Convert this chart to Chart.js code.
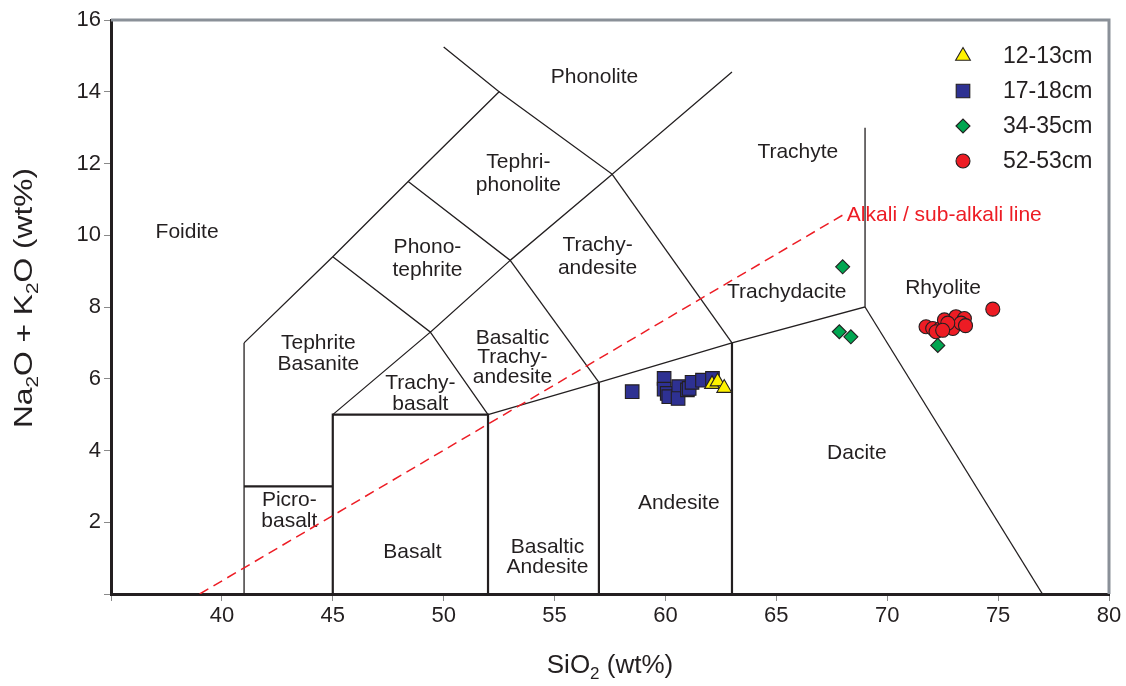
<!DOCTYPE html>
<html><head><meta charset="utf-8">
<script src="https://cdn.jsdelivr.net/npm/chart.js@4.4.1/dist/chart.umd.min.js"></script>
<style>html,body{margin:0;padding:0;background:#fff;}</style>
</head><body>
<canvas id="c" width="1126" height="686"></canvas>
<script>
// ---- data ----
const seriesNames = ['12-13cm', '17-18cm', '34-35cm', '52-53cm'];
const s1213 = [[62.1, 5.85], [62.35, 5.92], [62.65, 5.74]];
const s1718 = [[58.5, 5.64], [59.94, 6.01], [59.94, 5.71], [60.08, 5.59], [60.15, 5.5], [60.6, 5.78],
               [60.57, 5.45], [60.99, 5.69], [61.07, 5.73], [61.2, 5.9], [61.67, 5.96], [62.12, 6.01]];
const s3435 = [[67.99, 9.12], [67.84, 7.31], [68.36, 7.17], [72.28, 6.93]];
const s5253 = [[74.76, 7.94], [71.75, 7.45], [72.05, 7.40], [72.40, 7.40], [72.58, 7.64], [72.96, 7.40],
               [73.10, 7.73], [73.48, 7.68], [73.33, 7.55], [73.53, 7.48], [72.73, 7.55], [72.20, 7.31], [72.5, 7.35]];
const xTickValues = [35, 40, 45, 50, 55, 60, 65, 70, 75, 80];
const yTickValues = [0, 2, 4, 6, 8, 10, 12, 14, 16];
const boundaryThin = [
  [[41, 7], [45, 9.4], [48.4, 11.5], [52.5, 14], [50, 15.25]],
  [[52.5, 14], [57.6, 11.7], [63, 14.55]],
  [[48.4, 11.5], [53, 9.3], [57.6, 11.7]],
  [[45, 9.4], [49.4, 7.3], [53, 9.3]],
  [[57.6, 11.7], [63, 7]],
  [[53, 9.3], [57, 5.9]],
  [[45, 5], [49.4, 7.3], [52, 5]],
  [[52, 5], [57, 5.9], [63, 7], [69, 8], [69, 13]],
  [[69, 8], [77, 0]],
  [[41, 0], [41, 7]]
];
const boundaryThick = [
  [[41, 3], [45, 3]],
  [[45, 0], [45, 5], [52, 5], [52, 0]],
  [[57, 0], [57, 5.9]],
  [[63, 0], [63, 7]]
];
const alkaliLine = [[39, 0], [68.15, 10.62]];
const regionLabels = [
  ['Phonolite', 56.8, 14.41], ['Tephri-', 53.37, 12.04], ['phonolite', 53.37, 11.4],
  ['Trachyte', 65.97, 12.32], ['Foidite', 38.43, 10.09],
  ['Phono-', 49.27, 9.67], ['tephrite', 49.27, 9.03],
  ['Trachy-', 56.94, 9.73], ['andesite', 56.94, 9.09],
  ['Trachydacite', 65.47, 8.42], ['Rhyolite', 72.52, 8.53],
  ['Tephrite', 44.35, 7.0], ['Basanite', 44.35, 6.41],
  ['Basaltic', 53.1, 7.14], ['Trachy-', 53.1, 6.61], ['andesite', 53.1, 6.05],
  ['Trachy-', 48.95, 5.88], ['basalt', 48.95, 5.30],
  ['Picro-', 43.04, 2.62], ['basalt', 43.04, 2.03],
  ['Basalt', 48.59, 1.17], ['Basaltic', 54.68, 1.31], ['Andesite', 54.68, 0.75],
  ['Andesite', 60.6, 2.54], ['Dacite', 68.63, 3.93]
];
const alkaliLabel = ['Alkali / sub-alkali line', 68.18, 10.56];

// ---- build ----
const INK = '#231f20';
const FONT = '"Liberation Sans", Arial, Helvetica, sans-serif';
const toPts = a => a.map(p => ({x: p[0], y: p[1]}));
const markers = [
  {data: s1213, style: 'triangle', r: 8.5, color: '#fff200'},
  {data: s1718, style: 'rect', r: 9.6, color: '#2e3192'},
  {data: s3435, style: 'rectRot', r: 7, color: '#00a651'},
  {data: s5253, style: 'circle', r: 7, color: '#ed1c24'}
];
const datasets = [];
markers.forEach((m, i) => {
  datasets.push({label: seriesNames[i], data: toPts(m.data), pointStyle: m.style, pointRadius: m.r,
    pointHoverRadius: m.r, backgroundColor: m.color, borderColor: INK, pointBorderWidth: 1.1,
    showLine: false, order: i === 0 ? 0 : 1});
});
boundaryThin.forEach(b => datasets.push({data: toPts(b), showLine: true, pointRadius: 0, borderColor: INK,
  borderWidth: 1.3, order: 10, fill: false, tension: 0}));
boundaryThick.forEach(b => datasets.push({data: toPts(b), showLine: true, pointRadius: 0, borderColor: INK,
  borderWidth: 2.2, order: 10, fill: false, tension: 0}));
datasets.push({data: toPts(alkaliLine), showLine: true, pointRadius: 0, borderColor: '#ed1c24',
  borderWidth: 1.5, borderDash: [10, 6], order: 9, fill: false});

const decor = {
  id: 'decor',
  beforeDatasetsDraw(chart) {
    const ctx = chart.ctx, xs = chart.scales.x, ys = chart.scales.y;
    ctx.save();
    ctx.font = '21px ' + FONT;
    ctx.fillStyle = INK;
    ctx.textAlign = 'center';
    ctx.textBaseline = 'middle';
    regionLabels.forEach(l => ctx.fillText(l[0], xs.getPixelForValue(l[1]), ys.getPixelForValue(l[2])));
    ctx.fillStyle = '#ed1c24';
    ctx.textAlign = 'left';
    ctx.fillText(alkaliLabel[0], xs.getPixelForValue(alkaliLabel[1]), ys.getPixelForValue(alkaliLabel[2]));
    ctx.restore();
  },
  afterDraw(chart) {
    const ctx = chart.ctx, a = chart.chartArea;
    ctx.save();
    // top & right frame
    ctx.strokeStyle = '#8a9098';
    ctx.lineWidth = 3;
    ctx.beginPath();
    ctx.moveTo(a.left, a.top); ctx.lineTo(a.right, a.top); ctx.lineTo(a.right, a.bottom);
    ctx.stroke();
    // legend
    const lx = 963, tx = 1003, ly0 = 56, dy = 35;
    markers.forEach((m, i) => {
      const y = ly0 + i * dy;
      ctx.fillStyle = m.color;
      ctx.strokeStyle = INK;
      ctx.lineWidth = 1.1;
      Chart.helpers.drawPoint(ctx, {pointStyle: m.style, radius: m.r, rotation: 0, borderWidth: 1.1}, lx, y);
      ctx.fillStyle = INK;
      ctx.font = '23px ' + FONT;
      ctx.textAlign = 'left';
      ctx.textBaseline = 'middle';
      ctx.fillText(seriesNames[i], tx, y + 1);
    });
    // axis titles with subscripts
    const big = '26px ' + FONT, small = '17px ' + FONT;
    function runs(parts) {
      let w = 0;
      parts.forEach(p => { ctx.font = p[1] ? small : big; w += ctx.measureText(p[0]).width; });
      return w;
    }
    function drawRuns(parts, x, y) {
      parts.forEach(p => {
        ctx.font = p[1] ? small : big;
        ctx.fillText(p[0], x, y + (p[1] ? 6 : 0));
        x += ctx.measureText(p[0]).width;
      });
    }
    ctx.fillStyle = INK;
    ctx.textAlign = 'left';
    ctx.textBaseline = 'alphabetic';
    const xt = [['SiO', 0], ['2', 1], [' (wt%)', 0]];
    const xw = runs(xt);
    drawRuns(xt, (a.left + a.right) / 2 - xw / 2, 673);
    const yt = [['Na', 0], ['2', 1], ['O + K', 0], ['2', 1], ['O (wt%)', 0]];
    const yw = runs(yt);
    ctx.translate(32, 298);
    ctx.rotate(-Math.PI / 2);
    ctx.scale(1.22, 1);
    drawRuns(yt, -yw / 2, 0);
    ctx.restore();
  }
};

new Chart(document.getElementById('c'), {
  type: 'scatter',
  data: {datasets},
  options: {
    responsive: false,
    animation: false,
    events: [],
    layout: {padding: {left: 0, right: 17, top: 20, bottom: 0}},
    plugins: {legend: {display: false}, tooltip: {enabled: false}, title: {display: false}},
    scales: {
      x: {
        type: 'linear', min: 35, max: 80,
        afterFit: s => { s.height = 92; },
        afterBuildTicks: s => { s.ticks = xTickValues.map(v => ({value: v})); },
        ticks: {stepSize: 5, padding: 2, color: INK, font: {size: 22, family: FONT},
          callback: v => (v === 35 ? '' : String(v)), maxRotation: 0, autoSkip: false},
        grid: {display: true, drawOnChartArea: false, drawTicks: true, tickLength: 7, color: '#8a8a8a', lineWidth: 1},
        border: {display: true, color: INK, width: 3}
      },
      y: {
        type: 'linear', min: 0, max: 16,
        afterFit: s => { s.width = 111; },
        afterBuildTicks: s => { s.ticks = yTickValues.map(v => ({value: v})); },
        ticks: {stepSize: 2, padding: 3, color: INK, font: {size: 22, family: FONT},
          callback: v => (v === 0 ? '' : String(v)), autoSkip: false},
        grid: {display: true, drawOnChartArea: false, drawTicks: true, tickLength: 7, color: '#8a8a8a', lineWidth: 1},
        border: {display: true, color: INK, width: 3}
      }
    }
  },
  plugins: [decor]
});
</script>
</body></html>
